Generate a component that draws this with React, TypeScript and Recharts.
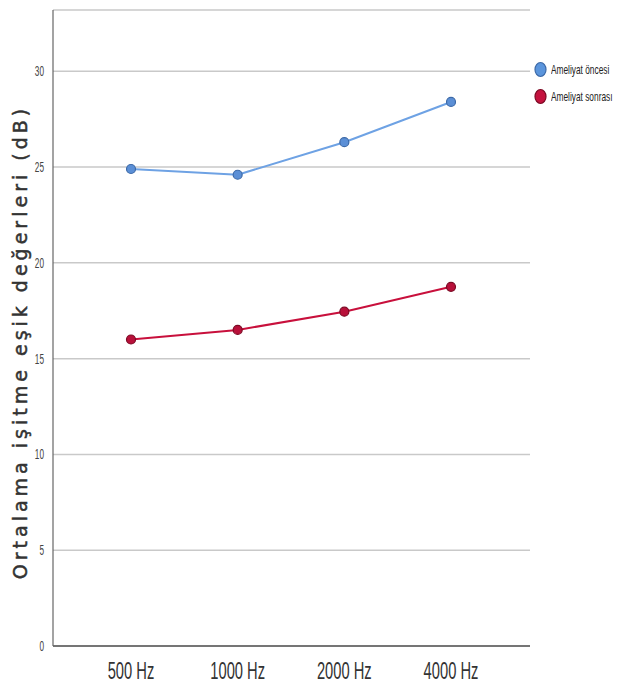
import React from "react";
import { LineChart, Line, XAxis, YAxis, CartesianGrid } from "recharts";

const categories = ["500 Hz", "1000 Hz", "2000 Hz", "4000 Hz"];
const oncesi = [24.9, 24.6, 26.3, 28.4];
const sonrasi = [16.0, 16.5, 17.45, 18.75];
const yTicks = [0, 5, 10, 15, 20, 25, 30];
const seriesNames = ["Ameliyat öncesi", "Ameliyat sonrası"];

const data = categories.map((c, i) => ({ name: c, oncesi: oncesi[i], sonrasi: sonrasi[i] }));

const sans = "'Liberation Sans', Arial, sans-serif";

const legendItems = [
  { name: seriesNames[0], fill: "#5b95dc", stroke: "#3d6aa8" },
  { name: seriesNames[1], fill: "#c4123e", stroke: "#7c0a24" },
];

const XTick = (props: any) => {
  const { x, y, payload } = props;
  return (
    <g transform={`translate(${x},${y + 25})`}>
      <text transform="scale(0.64,1)" textAnchor="middle" fontFamily={sans} fontSize={23} fill="#333">
        {payload.value}
      </text>
    </g>
  );
};

const YTick = (props: any) => {
  const { x, y, payload } = props;
  return (
    <g transform={`translate(${x + 1},${y + 5})`}>
      <text transform="scale(0.55,1)" textAnchor="end" fontFamily={sans} fontSize={15} fill="#444">
        {payload.value}
      </text>
    </g>
  );
};

const YLabel = () => (
  <text
    x={21}
    y={342}
    transform="rotate(-90 21 342)"
    textAnchor="middle"
    dominantBaseline="middle"
    fontFamily="'DejaVu Sans', Verdana, sans-serif"
    fontSize={19}
    letterSpacing={4}
    fill="#333"
    stroke="#333"
    strokeWidth={0.5}
  >
    Ortalama işitme eşik değerleri (dB)
  </text>
);

export default function App() {
  return (
    <div style={{ position: "absolute", left: 0, top: 0, width: 618, height: 686 }}>
      <LineChart width={618} height={686} data={data} margin={{ top: 10, right: 88, left: 8, bottom: 0 }}>
        <CartesianGrid horizontal vertical={false} stroke="#c9c9c9" strokeWidth={1.5} />
        <XAxis
          dataKey="name"
          scale="point"
          padding={{ left: 78, right: 79 }}
          height={40}
          tickLine={false}
          axisLine={{ stroke: "#555", strokeWidth: 1.5 }}
          tick={<XTick />}
        />
        <YAxis
          domain={[0, 33.2]}
          ticks={yTicks}
          width={45}
          tickLine={false}
          axisLine={{ stroke: "#666", strokeWidth: 1.2 }}
          tick={<YTick />}
          tickMargin={4}
          allowDataOverflow
          label={<YLabel />}
        />
        <Line
          type="linear"
          dataKey="oncesi"
          name={seriesNames[0]}
          stroke="#6ea2e4"
          strokeWidth={2}
          dot={{ r: 4.5, fill: "#5b8fd6", stroke: "#3d6aa8", strokeWidth: 1.2 }}
          isAnimationActive={false}
        />
        <Line
          type="linear"
          dataKey="sonrasi"
          name={seriesNames[1]}
          stroke="#c8103c"
          strokeWidth={2}
          dot={{ r: 4.5, fill: "#b8103a", stroke: "#7c0a24", strokeWidth: 1.2 }}
          isAnimationActive={false}
        />
      </LineChart>
      <div style={{ position: "absolute", left: 533, top: 56, fontFamily: sans, fontSize: 13, color: "#222" }}>
        {legendItems.map((it) => (
          <div key={it.name} style={{ display: "flex", alignItems: "center", height: 27 }}>
            <svg width={15} height={17} style={{ marginRight: 3, flexShrink: 0 }}>
              <ellipse cx={7.5} cy={8.5} rx={5.5} ry={7} fill={it.fill} stroke={it.stroke} strokeWidth={1.2} />
            </svg>
            <span style={{ whiteSpace: "nowrap", display: "inline-block", transform: "scaleX(0.64)", transformOrigin: "left center" }}>
              {it.name}
            </span>
          </div>
        ))}
      </div>
    </div>
  );
}
